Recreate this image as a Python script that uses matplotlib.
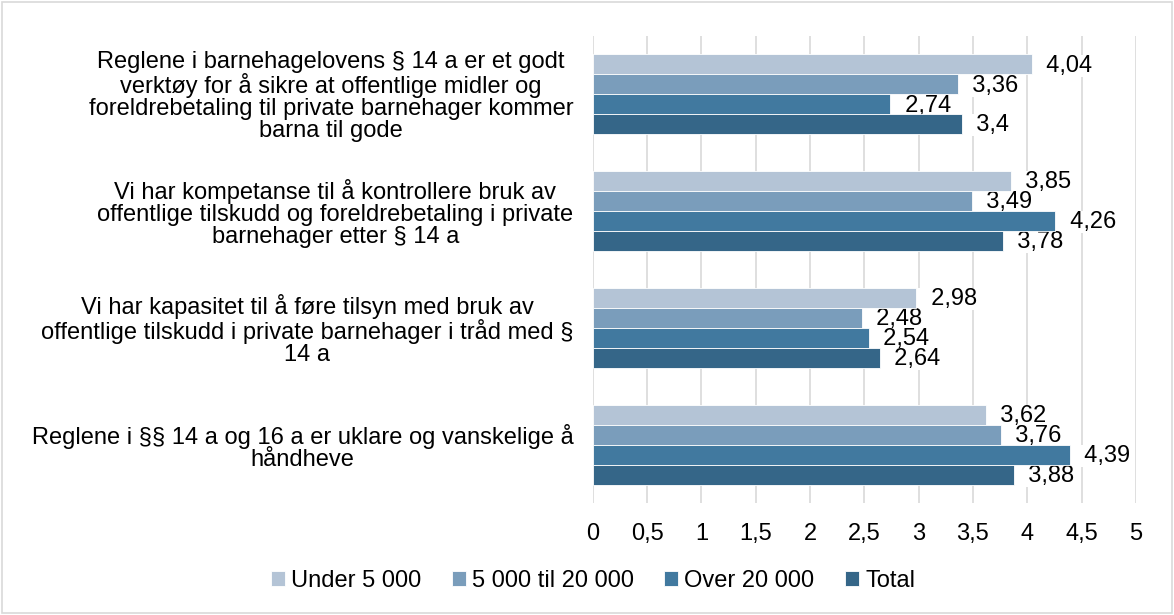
import numpy as np
import matplotlib.pyplot as plt
from matplotlib.ticker import FuncFormatter

plt.rcParams['font.family'] = ['Liberation Sans', 'DejaVu Sans']

categories = [
    "Reglene i barnehagelovens § 14 a er et godt\nverktøy for å sikre at offentlige midler og\nforeldrebetaling til private barnehager kommer\nbarna til gode",
    "Vi har kompetanse til å kontrollere bruk av\noffentlige tilskudd og foreldrebetaling i private\nbarnehager etter § 14 a",
    "Vi har kapasitet til å føre tilsyn med bruk av\noffentlige tilskudd i private barnehager i tråd med §\n14 a",
    "Reglene i §§ 14 a og 16 a er uklare og vanskelige å\nhåndheve",
]
series_names = ["Under 5 000", "5 000 til 20 000", "Over 20 000", "Total"]
under_5000 = [4.04, 3.85, 2.98, 3.62]
mid_5000_20000 = [3.36, 3.49, 2.48, 3.76]
over_20000 = [2.74, 4.26, 2.54, 4.39]
total = [3.4, 3.78, 2.64, 3.88]
colors = ["#b4c4d6", "#7a9dbb", "#41799f", "#356688"]

values = [under_5000, mid_5000_20000, over_20000, total]
fs = 17

fig = plt.figure(figsize=(11.74, 6.15), dpi=100)
ax = fig.add_axes([0.505, 0.182, 0.4625, 0.7595])

pos = np.arange(len(categories))
h = 0.171
for i, (name, vals) in enumerate(zip(series_names, values)):
    y = pos + (i - 1.5) * h
    ax.barh(y, vals, height=h, color=colors[i], edgecolor="white",
            linewidth=0.6, label=name, zorder=3)
    for yy, v in zip(y, vals):
        txt = "  " + f"{v:g}".replace(".", ",")
        ax.text(v + 0.01, yy + 0.01, txt, va="center", ha="left", fontsize=fs,
                zorder=2, bbox=dict(facecolor="white", edgecolor="none", pad=0.0))

ax.set_ylim(len(categories) - 0.5, -0.5)
ax.set_yticks(pos)
ax.set_yticklabels(categories, fontsize=fs, multialignment="center", linespacing=1.0)
ax.set_xlim(0, 5)
ax.set_xticks(np.arange(0, 5.01, 0.5))
ax.xaxis.set_major_formatter(FuncFormatter(lambda x, p: f"{x:g}".replace(".", ",")))
ax.tick_params(axis="x", labelsize=fs, length=0, pad=14)
ax.tick_params(axis="y", length=0, pad=14)
ax.grid(axis="x", color="#d9d9d9", linewidth=1.2, zorder=0)
ax.set_axisbelow(True)
for s in ax.spines.values():
    s.set_visible(False)

fig.legend(loc="lower center", bbox_to_anchor=(0.505, 0.003), ncol=4, frameon=False,
           fontsize=fs, handlelength=0.6, handleheight=0.6, handletextpad=0.25,
           columnspacing=1.3)

fig.patches.append(plt.Rectangle((0.002, 0.003), 0.996, 0.994, transform=fig.transFigure,
                                 fill=False, edgecolor="#d9d9d9", linewidth=1.2))

fig.savefig("out.png", dpi=100)
